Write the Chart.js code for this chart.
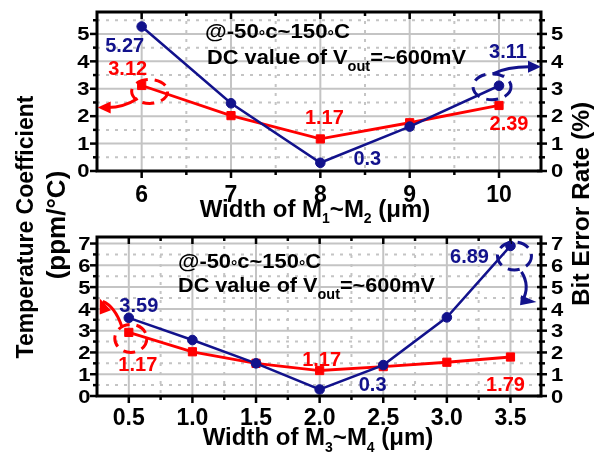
<!DOCTYPE html>
<html>
<head>
<meta charset="utf-8">
<script src="https://cdn.jsdelivr.net/npm/chart.js@4.4.1/dist/chart.umd.min.js"></script>
<style>
  html, body { margin: 0; padding: 0; background: #fff; }
  #wrap { position: relative; width: 611px; height: 457px; overflow: hidden; }
  canvas { position: absolute; left: 0; top: 0; }
</style>
</head>
<body>
<div id="wrap">
  <canvas id="upper" width="611" height="457"></canvas>
  <canvas id="lower" width="611" height="457"></canvas>
</div>
<script>
// Upper panel: sweep of M1~M2 width
const upperWidths = [6, 7, 8, 9, 10];
const upperTempCoeff = [3.12, 2.02, 1.17, 1.76, 2.39];   // ppm/°C
const upperBitError = [5.27, 2.47, 0.3, 1.62, 3.11];     // %
const upperXTicks = [6, 7, 8, 9, 10];
const upperXLabels = ['6', '7', '8', '9', '10'];
const upperYTicks = [0, 1, 2, 3, 4, 5];
const upperYLabels = ['0', '1', '2', '3', '4', '5'];

// Lower panel: sweep of M3~M4 width
const lowerWidths = [0.5, 1.0, 1.5, 2.0, 2.5, 3.0, 3.5];
const lowerTempCoeff = [2.92, 2.03, 1.5, 1.17, 1.35, 1.55, 1.79];
const lowerBitError = [3.59, 2.57, 1.5, 0.3, 1.42, 3.61, 6.89];
const lowerXTicks = [0.5, 1.0, 1.5, 2.0, 2.5, 3.0, 3.5];
const lowerXLabels = ['0.5', '1.0', '1.5', '2.0', '2.5', '3.0', '3.5'];
const lowerYTicks = [0, 1, 2, 3, 4, 5, 6, 7];
const lowerYLabels = ['0', '1', '2', '3', '4', '5', '6', '7'];

const BLUE = '#12128c';
const RED = '#ff0000';
const GRID = '#c4c4c4';
const FONT = '"Liberation Sans", Arial, Helvetica, sans-serif';

function font(size) { return `bold ${size}px ${FONT}`; }

function runsWidth(ctx, runs) {
  let w = 0;
  runs.forEach(r => { ctx.font = font(r.size); w += ctx.measureText(r.t).width; });
  return w;
}

// Draw a row of text runs (for subscripts / small symbols) on a common baseline.
// An optional target width stretches the row horizontally.
function drawRuns(ctx, x, y, runs, align, width) {
  const w = runsWidth(ctx, runs);
  const sx = width ? width / w : 1;
  const total = w * sx;
  const left = align === 'center' ? x - total / 2 : (align === 'right' ? x - total : x);
  ctx.save();
  ctx.translate(left, y);
  ctx.scale(sx, 1);
  ctx.textAlign = 'left';
  ctx.textBaseline = 'alphabetic';
  let cx = 0;
  runs.forEach(r => {
    ctx.font = font(r.size);
    ctx.fillText(r.t, cx, r.dy || 0);
    cx += ctx.measureText(r.t).width;
  });
  ctx.restore();
}

function midpoints(vals, lo, hi) {
  const out = [];
  for (let i = 0; i < vals.length - 1; i++) out.push((vals[i] + vals[i + 1]) / 2);
  const step = vals[1] - vals[0];
  const first = vals[0] - step / 2, last = vals[vals.length - 1] + step / 2;
  if (first > lo + 1e-6) out.unshift(first);
  if (last < hi - 1e-6) out.push(last);
  return out;
}

function seg(ctx, x1, y1, x2, y2) {
  ctx.beginPath(); ctx.moveTo(x1, y1); ctx.lineTo(x2, y2); ctx.stroke();
}

function arrowHead(ctx, tipX, tipY, angle, len, half) {
  const bx = tipX - len * Math.cos(angle), by = tipY - len * Math.sin(angle);
  ctx.beginPath();
  ctx.moveTo(tipX, tipY);
  ctx.lineTo(bx + half * Math.sin(angle), by - half * Math.cos(angle));
  ctx.lineTo(bx - half * Math.sin(angle), by + half * Math.cos(angle));
  ctx.closePath();
  ctx.fill();
}

function dashedEllipse(ctx, cx, cy, rx, ry, color) {
  ctx.save();
  ctx.strokeStyle = color;
  ctx.lineWidth = 3;
  ctx.setLineDash([12, 7]);
  ctx.beginPath();
  ctx.ellipse(cx, cy, rx, ry, 0, 0, Math.PI * 2);
  ctx.stroke();
  ctx.restore();
}

// Frame, grid, tick marks, labels and callouts for one panel.
function makePanelPlugin(p) {
  return {
    id: 'panelDecor',
    beforeDatasetsDraw(chart) {
      const { ctx, chartArea: a, scales } = chart;
      const xs = scales.x, ys = scales.yL;
      ctx.save();
      ctx.strokeStyle = GRID;
      ctx.lineWidth = 2;
      ctx.setLineDash([3, 6]);
      p.xMinor.forEach(v => { const px = xs.getPixelForValue(v); seg(ctx, px, a.top, px, a.bottom); });
      p.yMinor.forEach(v => { const py = ys.getPixelForValue(v); seg(ctx, a.left, py, a.right, py); });
      ctx.setLineDash([]);
      p.xMajor.forEach(v => { const px = xs.getPixelForValue(v); seg(ctx, px, a.top, px, a.bottom); });
      p.yMajor.forEach(v => { const py = ys.getPixelForValue(v); if (v > ys.min) seg(ctx, a.left, py, a.right, py); });
      ctx.restore();
    },
    afterDatasetsDraw(chart) {
      const { ctx, chartArea: a, scales } = chart;
      const xs = scales.x, yL = scales.yL, yR = scales.yR;
      ctx.save();
      // frame
      ctx.strokeStyle = '#000';
      ctx.lineWidth = 3;
      ctx.strokeRect(a.left, a.top, a.right - a.left, a.bottom - a.top);
      // tick marks
      ctx.lineWidth = 2.5;
      p.xMajor.forEach(v => {
        const px = xs.getPixelForValue(v);
        seg(ctx, px, a.bottom, px, a.bottom + 7);
        seg(ctx, px, a.top, px, a.top + 7);
      });
      p.xMinor.forEach(v => {
        const px = xs.getPixelForValue(v);
        seg(ctx, px, a.bottom, px, a.bottom + 4);
        seg(ctx, px, a.top, px, a.top + 4);
      });
      p.yMajor.forEach(v => {
        const py = yL.getPixelForValue(v);
        seg(ctx, a.left - 7, py, a.left, py);
        seg(ctx, a.right - 4, py, a.right + 6, py);
      });
      p.yMinor.forEach(v => {
        const py = yL.getPixelForValue(v);
        seg(ctx, a.left - 4, py, a.left, py);
        seg(ctx, a.right - 2, py, a.right + 4, py);
      });
      // tick labels
      ctx.fillStyle = '#000';
      ctx.font = font(23);
      ctx.textAlign = 'center';
      ctx.textBaseline = 'alphabetic';
      p.xMajor.forEach((v, i) => ctx.fillText(p.xLabels[i], xs.getPixelForValue(v), p.xLabelBase));
      ctx.font = font(22);
      p.yMajor.forEach((v, i) => {
        const pl = yL.getPixelForValue(v), pr = yR.getPixelForValue(v);
        ctx.save(); ctx.translate(p.yLabelLeft, pl); ctx.scale(1, p.ySquash);
        ctx.textAlign = 'right'; ctx.fillText(p.yLabels[i], 0, 0.358 * 22); ctx.restore();
        ctx.save(); ctx.translate(p.yLabelRight, pr); ctx.scale(1, p.ySquash);
        ctx.textAlign = 'left'; ctx.fillText(p.yLabels[i], 0, 0.358 * 22); ctx.restore();
      });
      // axis title under the panel
      ctx.fillStyle = '#000';
      drawRuns(ctx, p.xTitle.x, p.xTitle.y, p.xTitle.runs, 'center');
      // condition note
      p.notes.forEach(n => drawRuns(ctx, n.x, n.y, n.runs, 'left', n.width));
      // value labels next to the marks
      p.valueLabels.forEach(l => {
        const scale = l.axis === 'yR' ? yR : yL;
        const px = xs.getPixelForValue(l.x) + l.dx;
        const py = scale.getPixelForValue(l.y) + l.dy;
        ctx.fillStyle = l.color;
        ctx.font = font(20);
        ctx.textAlign = 'center';
        ctx.textBaseline = 'alphabetic';
        ctx.fillText(l.text, px, py + 0.358 * 20);
      });
      // callouts pointing each curve to its own axis
      p.callouts.forEach(c => {
        const scale = c.axis === 'yR' ? yR : yL;
        const px = xs.getPixelForValue(c.x), py = scale.getPixelForValue(c.y);
        ctx.save();
        c.draw(ctx, px, py);
        ctx.restore();
      });
      // shared side titles
      if (p.sideTitles) {
        ctx.fillStyle = '#000';
        p.sideTitles.forEach(t => {
          ctx.save();
          ctx.translate(t.x, t.y);
          ctx.rotate(-Math.PI / 2);
          drawRuns(ctx, 0, 0, t.runs, 'center');
          ctx.restore();
        });
      }
      ctx.restore();
    }
  };
}

function buildPanel(canvasId, cfg) {
  return new Chart(document.getElementById(canvasId), {
    type: 'line',
    data: {
      datasets: [
        {
          label: 'Bit Error Rate',
          data: cfg.xs.map((x, i) => ({ x, y: cfg.ber[i] })),
          yAxisID: 'yR',
          borderColor: BLUE,
          backgroundColor: BLUE,
          borderWidth: 2.5,
          pointStyle: 'circle',
          pointRadius: 4.8,
          pointBorderWidth: 1,
          tension: 0,
          clip: false
        },
        {
          label: 'Temperature Coefficient',
          data: cfg.xs.map((x, i) => ({ x, y: cfg.tc[i] })),
          yAxisID: 'yL',
          borderColor: RED,
          backgroundColor: RED,
          borderWidth: 2.8,
          pointStyle: 'rect',
          pointRadius: 5.8,
          pointBorderWidth: 1,
          tension: 0,
          clip: false
        }
      ]
    },
    options: {
      responsive: false,
      animation: false,
      devicePixelRatio: 1,
      layout: { padding: cfg.padding },
      scales: {
        x: { type: 'linear', min: cfg.xMin, max: cfg.xMax, display: false },
        yL: { type: 'linear', position: 'left', min: cfg.yMin, max: cfg.yMax, display: false },
        yR: { type: 'linear', position: 'right', min: cfg.yMin, max: cfg.yMax, display: false }
      },
      plugins: {
        legend: { display: false },
        tooltip: { enabled: false }
      }
    },
    plugins: [makePanelPlugin(cfg.decor)]
  });
}

const fmt = v => String(v);
const degRun = { t: '\u00b0', size: 15, dy: 3 };
function noteRuns(size) {
  return [
    { t: '@-50', size }, degRun, { t: 'c~150', size }, degRun, { t: 'C', size }
  ];
}
function dcRuns(size) {
  return [{ t: 'DC value of V', size }, { t: 'out', size: 14, dy: 7 }, { t: '=~600mV', size }];
}

// ---------- upper panel ----------
buildPanel('upper', {
  xs: upperWidths, tc: upperTempCoeff, ber: upperBitError,
  xMin: 5.5, xMax: 10.47, yMin: 0, yMax: 5.8,
  padding: { left: 97, right: 70, top: 12, bottom: 457 - 171 },
  decor: {
    xMajor: upperXTicks, xMinor: midpoints(upperXTicks, 5.5, 10.47), xLabels: upperXLabels,
    yMajor: upperYTicks, yMinor: midpoints(upperYTicks, 0, 5.8), yLabels: upperYLabels,
    xLabelBase: 202, yLabelLeft: 89.5, yLabelRight: 551, ySquash: 0.8,
    xTitle: { x: 315, y: 217, runs: [
      { t: 'Width of M', size: 24 }, { t: '1', size: 14, dy: 6 },
      { t: '~M', size: 24 }, { t: '2', size: 14, dy: 6 }, { t: ' (\u03bcm)', size: 24 }] },
    notes: [
      { x: 205, y: 38, runs: noteRuns(21), width: 145 },
      { x: 207, y: 64, runs: dcRuns(21), width: 259 }
    ],
    valueLabels: [
      { x: upperWidths[0], y: upperBitError[0], axis: 'yR', text: fmt(upperBitError[0]), color: BLUE, dx: -17, dy: 18 },
      { x: upperWidths[0], y: upperTempCoeff[0], axis: 'yL', text: fmt(upperTempCoeff[0]), color: RED, dx: -14, dy: -18 },
      { x: upperWidths[2], y: upperTempCoeff[2], axis: 'yL', text: fmt(upperTempCoeff[2]), color: RED, dx: 4, dy: -22 },
      { x: upperWidths[2], y: upperBitError[2], axis: 'yR', text: fmt(upperBitError[2]), color: BLUE, dx: 47, dy: -5 },
      { x: upperWidths[4], y: upperBitError[4], axis: 'yR', text: fmt(upperBitError[4]), color: BLUE, dx: 9, dy: -35 },
      { x: upperWidths[4], y: upperTempCoeff[4], axis: 'yL', text: fmt(upperTempCoeff[4]), color: RED, dx: 10, dy: 17 }
    ],
    callouts: [
      { x: upperWidths[0], y: upperTempCoeff[0], axis: 'yL', draw(ctx, px, py) {
        dashedEllipse(ctx, px + 8, py + 6, 18, 12, RED);
        ctx.strokeStyle = RED; ctx.fillStyle = RED; ctx.lineWidth = 3; ctx.setLineDash([]);
        ctx.beginPath(); ctx.moveTo(px - 4, py + 13); ctx.quadraticCurveTo(px - 18, py + 22, px - 34, py + 22); ctx.stroke();
        arrowHead(ctx, px - 44, py + 22, Math.PI, 13, 6);
      } },
      { x: upperWidths[4], y: upperBitError[4], axis: 'yR', draw(ctx, px, py) {
        dashedEllipse(ctx, px - 7, py + 1, 19, 13, BLUE);
        ctx.strokeStyle = BLUE; ctx.fillStyle = BLUE; ctx.lineWidth = 3; ctx.setLineDash([]);
        ctx.beginPath(); ctx.moveTo(px - 6, py - 12); ctx.quadraticCurveTo(px + 8, py - 19, px + 30, py - 19); ctx.stroke();
        arrowHead(ctx, px + 42, py - 19, 0, 13, 6);
      } }
    ],
    sideTitles: [
      { x: 33, y: 227, runs: [{ t: 'Temperature Coefficient', size: 23 }] },
      { x: 65, y: 225, runs: [{ t: '(ppm/\u00b0C)', size: 26 }] },
      { x: 589, y: 204, runs: [{ t: 'Bit Error Rate (%)', size: 24.5 }] }
    ]
  }
});

// ---------- lower panel ----------
buildPanel('lower', {
  xs: lowerWidths, tc: lowerTempCoeff, ber: lowerBitError,
  xMin: 0.25, xMax: 3.74, yMin: 0, yMax: 7.3,
  padding: { left: 97, right: 70, top: 237, bottom: 457 - 396 },
  decor: {
    xMajor: lowerXTicks, xMinor: midpoints(lowerXTicks, 0.25, 3.74), xLabels: lowerXLabels,
    yMajor: lowerYTicks, yMinor: midpoints(lowerYTicks, 0, 7.3), yLabels: lowerYLabels,
    xLabelBase: 425, yLabelLeft: 90.5, yLabelRight: 551, ySquash: 0.85,
    xTitle: { x: 318, y: 445, runs: [
      { t: 'Width of M', size: 24 }, { t: '3', size: 14, dy: 7 },
      { t: '~M', size: 24 }, { t: '4', size: 14, dy: 7 }, { t: ' (\u03bcm)', size: 24 }] },
    notes: [
      { x: 178, y: 268, runs: noteRuns(21), width: 143 },
      { x: 178, y: 292, runs: dcRuns(21), width: 257 }
    ],
    valueLabels: [
      { x: lowerWidths[0], y: lowerBitError[0], axis: 'yR', text: fmt(lowerBitError[0]), color: BLUE, dx: 10, dy: -13 },
      { x: lowerWidths[0], y: lowerTempCoeff[0], axis: 'yL', text: fmt(lowerTempCoeff[3]), color: RED, dx: 9, dy: 31 },
      { x: lowerWidths[3], y: lowerTempCoeff[3], axis: 'yL', text: fmt(lowerTempCoeff[3]), color: RED, dx: 2, dy: -12 },
      { x: lowerWidths[3], y: lowerBitError[3], axis: 'yR', text: fmt(lowerBitError[3]), color: BLUE, dx: 53, dy: -6 },
      { x: lowerWidths[6], y: lowerBitError[6], axis: 'yR', text: fmt(lowerBitError[6]), color: BLUE, dx: -41, dy: 10 },
      { x: lowerWidths[6], y: lowerTempCoeff[6], axis: 'yL', text: fmt(lowerTempCoeff[6]), color: RED, dx: -5, dy: 27 }
    ],
    callouts: [
      { x: lowerWidths[0], y: lowerTempCoeff[0], axis: 'yL', draw(ctx, px, py) {
        dashedEllipse(ctx, px + 2, py + 6, 16, 14, RED);
        ctx.strokeStyle = RED; ctx.fillStyle = RED; ctx.lineWidth = 3; ctx.setLineDash([]);
        ctx.beginPath(); ctx.moveTo(px - 7, py - 6); ctx.quadraticCurveTo(px - 14, py - 26, px - 26, py - 31); ctx.stroke();
        arrowHead(ctx, px - 29, py - 34, -Math.PI * 0.62, 15, 6);
      } },
      { x: lowerWidths[6], y: lowerBitError[6], axis: 'yR', draw(ctx, px, py) {
        dashedEllipse(ctx, px + 4, py + 10, 17, 14, BLUE);
        ctx.strokeStyle = BLUE; ctx.fillStyle = BLUE; ctx.lineWidth = 3; ctx.setLineDash([]);
        ctx.beginPath(); ctx.moveTo(px + 11, py + 26); ctx.quadraticCurveTo(px + 20, py + 40, px + 12, py + 55); ctx.stroke();
        arrowHead(ctx, px + 26, py + 56, 0.1, 16, 5);
      } }
    ]
  }
});
</script>
</body>
</html>
